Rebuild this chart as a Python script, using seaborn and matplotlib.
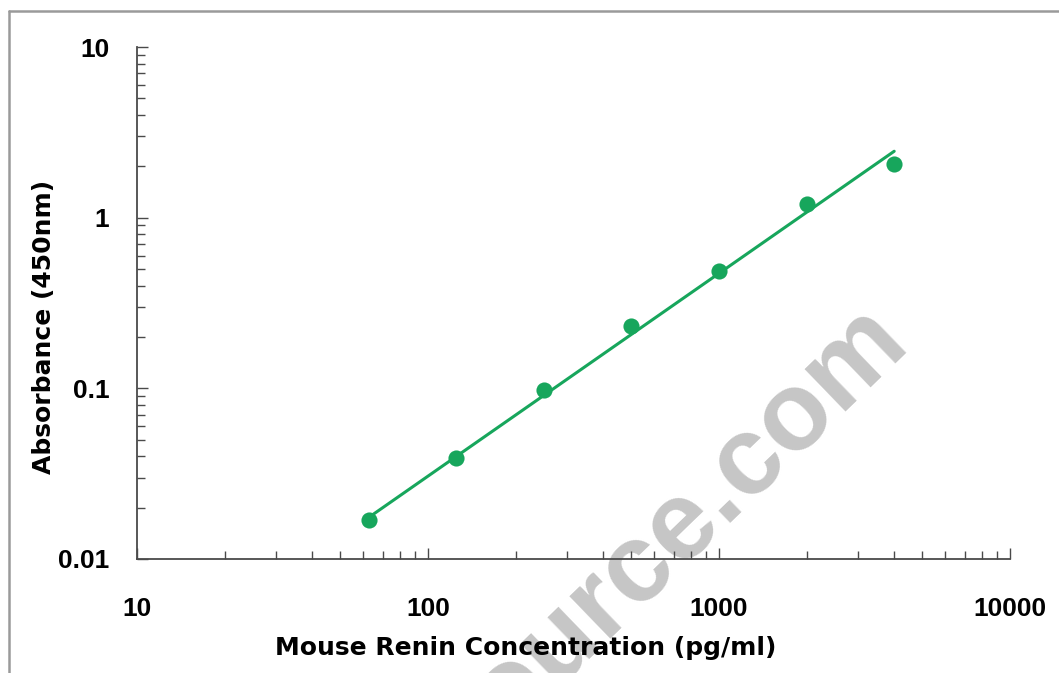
import numpy as np
import pandas as pd
import matplotlib
matplotlib.use("Agg")
import matplotlib.pyplot as plt
from matplotlib.lines import Line2D
from matplotlib.ticker import LogLocator, FixedLocator, FixedFormatter, NullFormatter
import seaborn as sns

# standard curve readings
conc = [62.5, 125, 250, 500, 1000, 2000, 4000]
od = [0.017, 0.039, 0.098, 0.232, 0.49, 1.2, 2.05]

# fitted line end points
fit_conc = [62.5, 4000]
fit_od = [0.0175, 2.45]

x_ticks = [10, 100, 1000, 10000]
x_tick_labels = ["10", "100", "1000", "10000"]
y_ticks = [0.01, 0.1, 1, 10]
y_tick_labels = ["0.01", "0.1", "1", "10"]

GREEN = "#17a65c"
AXIS_COLOR = "#4a4a4a"

sns.set_style("white")
plt.rcParams["font.family"] = ["Liberation Sans", "DejaVu Sans"]

points = pd.DataFrame({"conc": conc, "od": od})
fit = pd.DataFrame({"conc": fit_conc, "od": fit_od})

fig = plt.figure(figsize=(10.59, 6.73), dpi=100)
ax = fig.add_axes([137 / 1059, 1 - 559 / 673, 873 / 1059, 512 / 673])
ax.patch.set_alpha(0)

sns.lineplot(data=fit, x="conc", y="od", color=GREEN, linewidth=2.2, ax=ax, zorder=3)
sns.scatterplot(data=points, x="conc", y="od", color=GREEN, s=135, edgecolor=GREEN,
                linewidth=0, ax=ax, zorder=4)

ax.set_xscale("log")
ax.set_yscale("log")
ax.set_xlim(10, 10000)
ax.set_ylim(0.01, 10)

ax.xaxis.set_major_locator(FixedLocator(x_ticks))
ax.xaxis.set_major_formatter(FixedFormatter(x_tick_labels))
ax.yaxis.set_major_locator(FixedLocator(y_ticks))
ax.yaxis.set_major_formatter(FixedFormatter(y_tick_labels))
ax.xaxis.set_minor_locator(LogLocator(base=10, subs=np.arange(2, 10)))
ax.yaxis.set_minor_locator(LogLocator(base=10, subs=np.arange(2, 10)))
ax.xaxis.set_minor_formatter(NullFormatter())
ax.yaxis.set_minor_formatter(NullFormatter())

ax.tick_params(axis="both", which="both", bottom=True, left=True, top=False, right=False)
ax.tick_params(axis="both", which="major", direction="in", length=8, width=1,
               color=AXIS_COLOR, labelsize=19, labelcolor="black")
ax.tick_params(axis="both", which="minor", direction="in", length=6, width=1,
               color=AXIS_COLOR)
ax.tick_params(axis="x", which="major", pad=27)
ax.tick_params(axis="y", which="major", pad=20)
for lab in ax.get_xticklabels() + ax.get_yticklabels():
    lab.set_fontweight("bold")

sns.despine(ax=ax)
for side in ["left", "bottom"]:
    ax.spines[side].set_color(AXIS_COLOR)
    ax.spines[side].set_linewidth(1.3)

ax.set_xlabel("Mouse Renin Concentration (pg/ml)", fontsize=18, fontweight="bold",
              family="DejaVu Sans", color="black")
ax.set_ylabel("Absorbance (450nm)", fontsize=18, fontweight="bold", family="DejaVu Sans",
              color="black")
ax.xaxis.set_label_coords((526 - 137) / 873, (559 - 648) / 512)
ax.yaxis.set_label_coords((44 - 137) / 873, (559 - 327) / 512)
ax.xaxis.label.set_va("center")
ax.yaxis.label.set_va("center")

# outer frame (top and left edges are visible)
fig.add_artist(Line2D([9 / 1059, 9 / 1059], [0, 1 - 11 / 673], color="#9a9a9a", lw=1.8))
fig.add_artist(Line2D([9 / 1059, 1], [1 - 11 / 673, 1 - 11 / 673], color="#9a9a9a", lw=1.8))

# watermark, underneath the chart
fig.text(910 / 1059, 1 - 342 / 673, "mybiosource.com", fontsize=80, fontweight="bold",
         color="#c6c6c6", rotation=44, rotation_mode="anchor",
         ha="right", va="baseline", zorder=-1)

fig.savefig("out.png", dpi=100)
